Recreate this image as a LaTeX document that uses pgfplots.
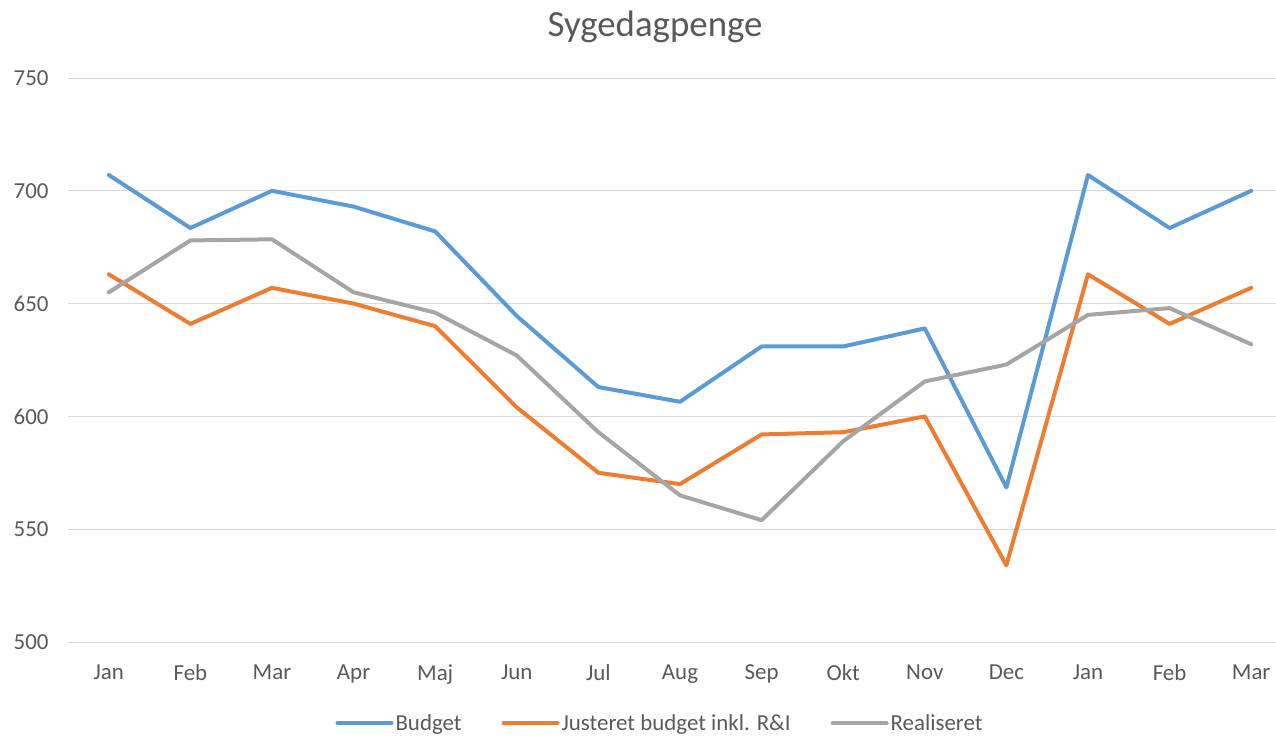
\documentclass[border=0pt]{standalone}
\usepackage{pgfplots}
\pgfplotsset{compat=1.18}
\usepackage{fontspec}
\setmainfont{Carlito}
\definecolor{cblue}{HTML}{5B9BD5}
\definecolor{corange}{HTML}{ED7D31}
\definecolor{cgray}{HTML}{A5A5A5}
\definecolor{ctext}{HTML}{595959}
\definecolor{cgrid}{HTML}{D9D9D9}
\begin{document}
\begin{tikzpicture}
\path[use as bounding box] (0bp,0bp) rectangle (1276bp,-738bp);
\begin{axis}[
  at={(68bp,-642bp)}, anchor=south west,
  scale only axis, width=1224bp, height=564bp,
  xmin=-0.5, xmax=14.5, ymin=500, ymax=750,
  xtick={0,...,14},
  xticklabels={Jan,Feb,Mar,Apr,Maj,Jun,Jul,Aug,Sep,Okt,Nov,Dec,Jan,Feb,Mar},
  ytick={500,550,600,650,700,750},
  ymajorgrids, major grid style={cgrid, line width=1bp},
  axis line style={draw=none},
  tick style={draw=none},
  clip=false,
  tick label style={font=\fontsize{23}{27}\selectfont, text=ctext},
  /pgf/number format/assume math mode=true,
  yticklabel style={xshift=-16bp},
  xticklabel style={yshift=-19bp},
  title={Sygedagpenge},
  title style={at={(axis description cs:0.4796,1)}, anchor=center, yshift=45bp, font=\fontsize{37}{42}\selectfont, text=ctext},
  legend columns=3,
  legend style={at={(axis description cs:0.4837,0)}, anchor=center, yshift=-81bp, draw=none, fill=none,
    font=\fontsize{23}{27}\selectfont, text=ctext,
    /tikz/every even column/.append style={column sep=38bp}},
  legend image code/.code={\draw[#1] (0bp,0bp) -- (54bp,0bp);},
  every axis plot/.append style={line width=4bp, line join=round, line cap=round},
]
\addplot[cblue] coordinates {(0,707) (1,683.5) (2,700) (3,693) (4,682) (5,644.5) (6,613) (7,606.5) (8,631) (9,631) (10,639) (11,568.5) (12,707) (13,683.5) (14,700)};
\addlegendentry{Budget}
\addplot[corange] coordinates {(0,663) (1,641) (2,657) (3,650) (4,640) (5,604) (6,575) (7,570) (8,592) (9,593) (10,600) (11,534) (12,663) (13,641) (14,657)};
\addlegendentry{Justeret budget inkl. R\&I}
\addplot[cgray] coordinates {(0,655) (1,678) (2,678.5) (3,655) (4,646) (5,627) (6,593) (7,565) (8,554) (9,589) (10,615.5) (11,623) (12,645) (13,648) (14,632)};
\addlegendentry{Realiseret}
\end{axis}
\end{tikzpicture}
\end{document}
